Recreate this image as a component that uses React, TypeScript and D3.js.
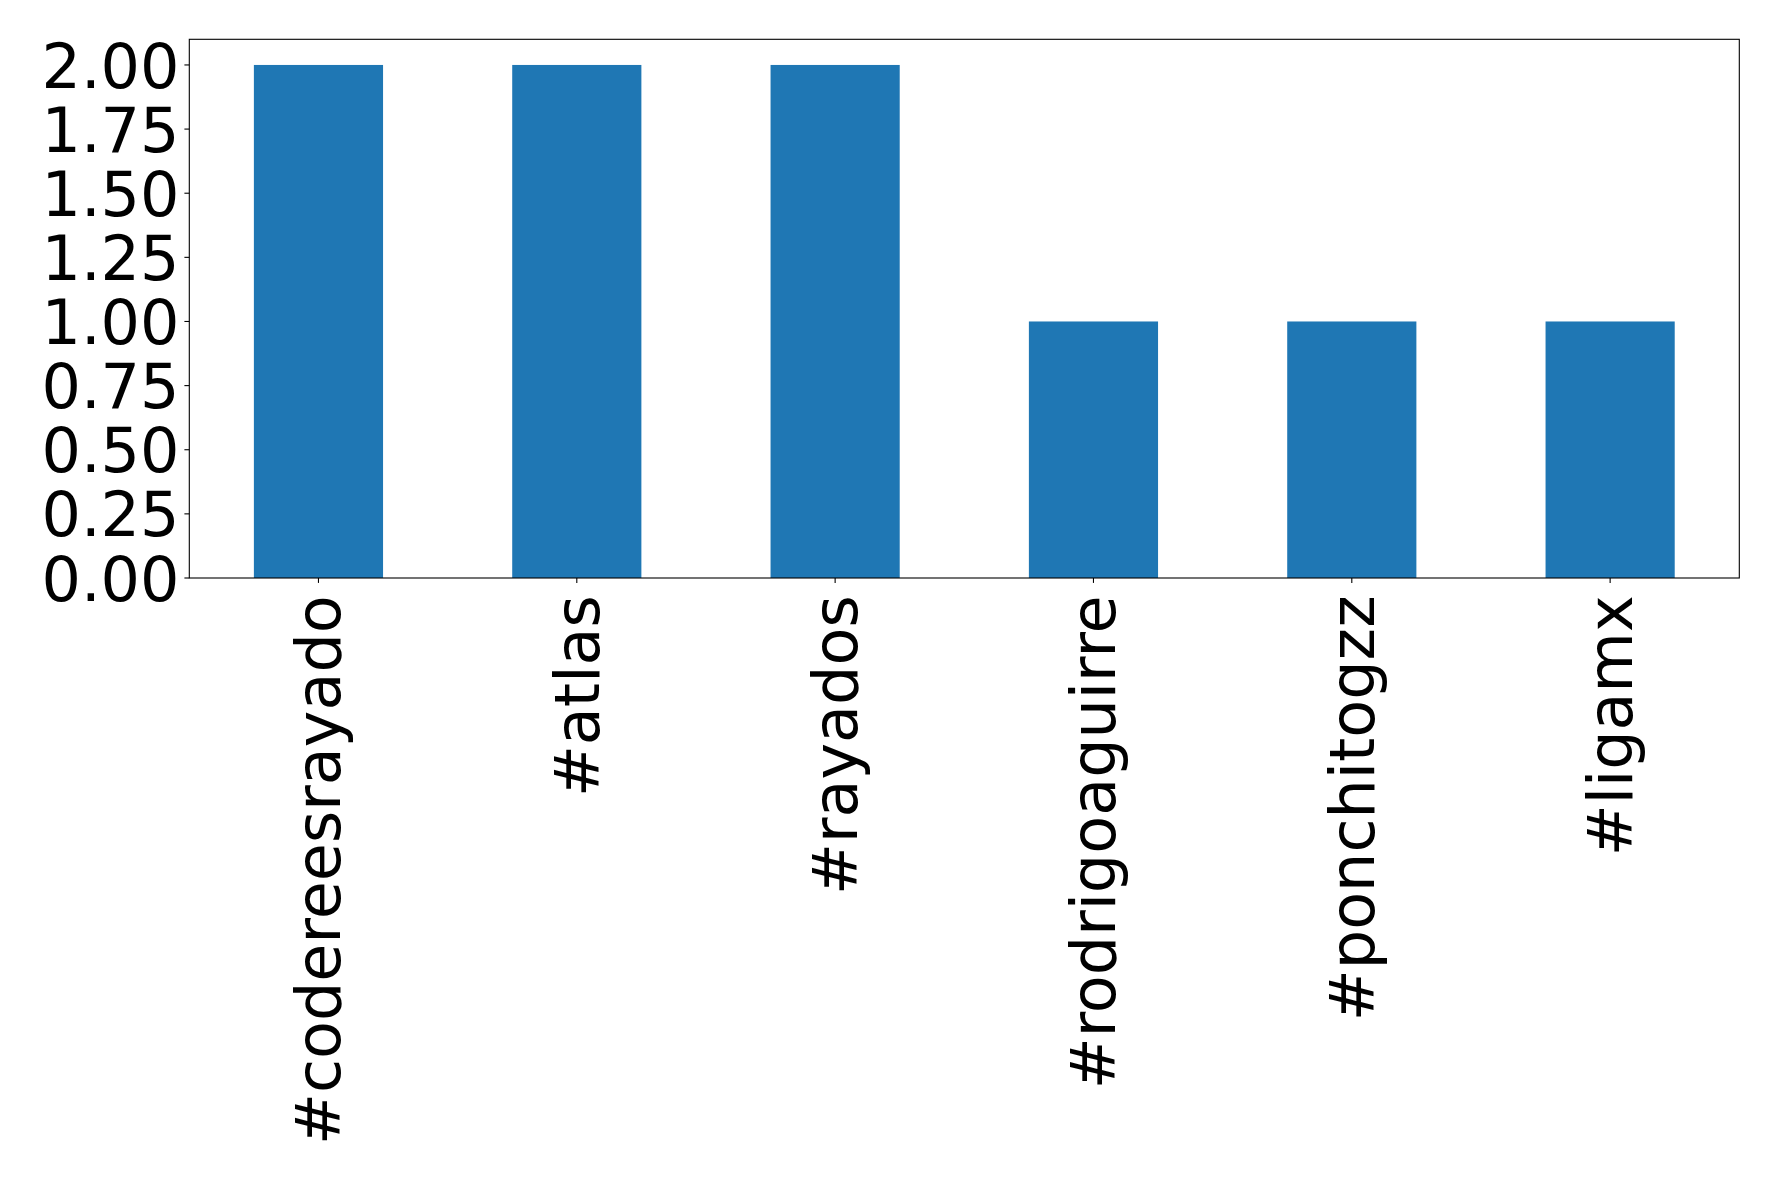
import React from "react";
import * as d3 from "d3";

const categories = ["#codereesrayado", "#atlas", "#rayados", "#rodrigoaguirre", "#ponchitogzz", "#ligamx"];
const counts = [2, 2, 2, 1, 1, 1];
const yTicks = [0, 0.25, 0.5, 0.75, 1.0, 1.25, 1.5, 1.75, 2.0];

const W = 1778;
const H = 1182;
const left = 189.3;
const right = 1739.3;
const top = 39.3;
const bottom = 578;
const fs = 62;
const font = "'DejaVu Sans', sans-serif";

export default function App() {
  const x = d3.scaleBand<string>().domain(categories).range([left, right]).paddingInner(0.5).paddingOuter(0.25);
  const y = d3.scaleLinear().domain([0, 2.1]).range([bottom, top]);
  return (
    <svg width={W} height={H} style={{ position: "fixed", left: 0, top: 0, background: "#fff" }} fontFamily={font}>
      <rect x={0} y={0} width={W} height={H} fill="#fff" />
      {categories.map((c, i) => (
        <rect key={c} x={x(c)} y={y(counts[i])} width={x.bandwidth()} height={y(0) - y(counts[i])} fill="#1f77b4" />
      ))}
      <rect x={left} y={top} width={right - left} height={bottom - top} fill="none" stroke="#000" strokeWidth={1.1} />
      {yTicks.map((t) => (
        <g key={t}>
          <line x1={left - 4.9} x2={left} y1={y(t)} y2={y(t)} stroke="#000" strokeWidth={1.1} />
          <text x={left - 9.8} y={y(t)} dy="0.364em" textAnchor="end" fontSize={fs} fill="#000">
            {d3.format(".2f")(t)}
          </text>
        </g>
      ))}
      {categories.map((c) => {
        const cx = (x(c) as number) + x.bandwidth() / 2;
        const ty = bottom + 17.3;
        return (
          <g key={c}>
            <line x1={cx} x2={cx} y1={bottom} y2={bottom + 4.9} stroke="#000" strokeWidth={1.1} />
            <text
              transform={`translate(${cx},${ty}) rotate(-90)`}
              dy="0.355em"
              textAnchor="end"
              fontSize={fs}
              fill="#000"
            >
              {c}
            </text>
          </g>
        );
      })}
    </svg>
  );
}
